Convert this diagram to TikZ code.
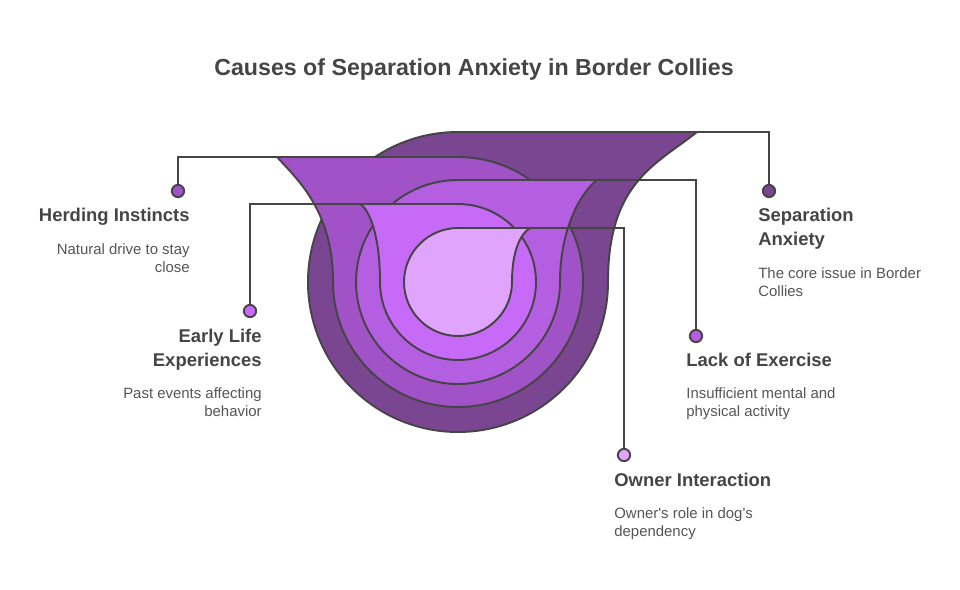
\documentclass[tikz,border=0pt]{standalone}
\usepackage{fontspec}
\setmainfont{Liberation Sans}
\usetikzlibrary{positioning}
\definecolor{lay1}{HTML}{7B4691}
\definecolor{lay2}{HTML}{A052C6}
\definecolor{lay3}{HTML}{B45EE2}
\definecolor{lay4}{HTML}{C86AF8}
\definecolor{lay5}{HTML}{E0A4FC}
\definecolor{edge}{HTML}{454545}
\definecolor{txt}{HTML}{454545}
\definecolor{dtxt}{HTML}{555555}

\begin{document}
\begin{tikzpicture}[
  x=0.02cm, y=0.02cm,
  layer/.style={draw=edge, line width=1.1pt, line join=round},
  link/.style={draw=edge, line width=1.1pt},
  dot/.style={circle, draw=edge, line width=1.1pt, inner sep=0pt, minimum size=7pt},
  title/.style={font=\bfseries\fontsize{13.2}{16}\selectfont, text=txt, inner sep=0pt},
  head/.style={font=\bfseries\fontsize{10.5}{13.6}\selectfont, text=txt, inner sep=0pt},
  desc/.style={font=\fontsize{8.5}{10.2}\selectfont, text=dtxt, inner sep=0pt}
]
\useasboundingbox (0,0) rectangle (960,-589);

\node[title, anchor=base] (title) at (474,-75) {Causes of Separation Anxiety in Border Collies};

% nested funnels, outermost first
\path[layer, fill=lay1] (458,-132) arc[start angle=90, end angle=360, radius=150]
  .. controls (608,-182) and (657,-164) .. (697,-132) -- cycle;
\path[layer, fill=lay2] (458,-157) arc[start angle=90, end angle=-180, radius=125]
  .. controls (333,-212) and (299,-181) .. (277,-157) -- cycle;
\path[layer, fill=lay3] (458,-180) arc[start angle=90, end angle=360, radius=102]
  .. controls (560,-230) and (580,-193) .. (597,-180) -- cycle;
\path[layer, fill=lay4] (458,-204) arc[start angle=90, end angle=-180, radius=78]
  .. controls (380,-237) and (370,-210) .. (360,-204) -- cycle;
\path[layer, fill=lay5] (458,-228) arc[start angle=90, end angle=360, radius=54]
  .. controls (512,-252) and (520,-234) .. (530,-228) -- cycle;

\coordinate (tip1) at (697,-132);
\coordinate (tip2) at (277,-157);
\coordinate (tip3) at (597,-180);
\coordinate (tip4) at (360,-204);
\coordinate (tip5) at (530,-228);

\node[dot, fill=lay1] (dot1) at (769,-191) {};
\node[dot, fill=lay2] (dot2) at (178,-191) {};
\node[dot, fill=lay3] (dot3) at (696,-336) {};
\node[dot, fill=lay4] (dot4) at (250,-311) {};
\node[dot, fill=lay5] (dot5) at (624,-455) {};

\draw[link] (tip1) -| (dot1);
\draw[link] (tip2) -| (dot2);
\draw[link] (tip3) -| (dot3);
\draw[link] (tip4) -| (dot4);
\draw[link] (tip5) -| (dot5);

% labels
\node[head, anchor=north west, align=left] (sep) at (758,-208) {Separation\\Anxiety};
\node[desc, anchor=north west, align=left] (sepd) at (758,-267) {The core issue in Border\\Collies};
\node[head, anchor=north east, align=right] (herd) at (190,-208) {Herding Instincts};
\node[desc, anchor=north east, align=right] (herdd) at (190,-243) {Natural drive to stay\\close};
\node[head, anchor=north west, align=left] (lack) at (686,-353) {Lack of Exercise};
\node[desc, anchor=north west, align=left] (lackd) at (686,-387) {Insufficient mental and\\physical activity};
\node[head, anchor=north east, align=right] (early) at (262,-329) {Early Life\\Experiences};
\node[desc, anchor=north east, align=right] (earlyd) at (262,-387) {Past events affecting\\behavior};
\node[head, anchor=north west, align=left] (owner) at (614,-473) {Owner Interaction};
\node[desc, anchor=north west, align=left] (ownerd) at (614,-507) {Owner\textquotesingle s role in dog\textquotesingle s\\dependency};
\end{tikzpicture}
\end{document}
